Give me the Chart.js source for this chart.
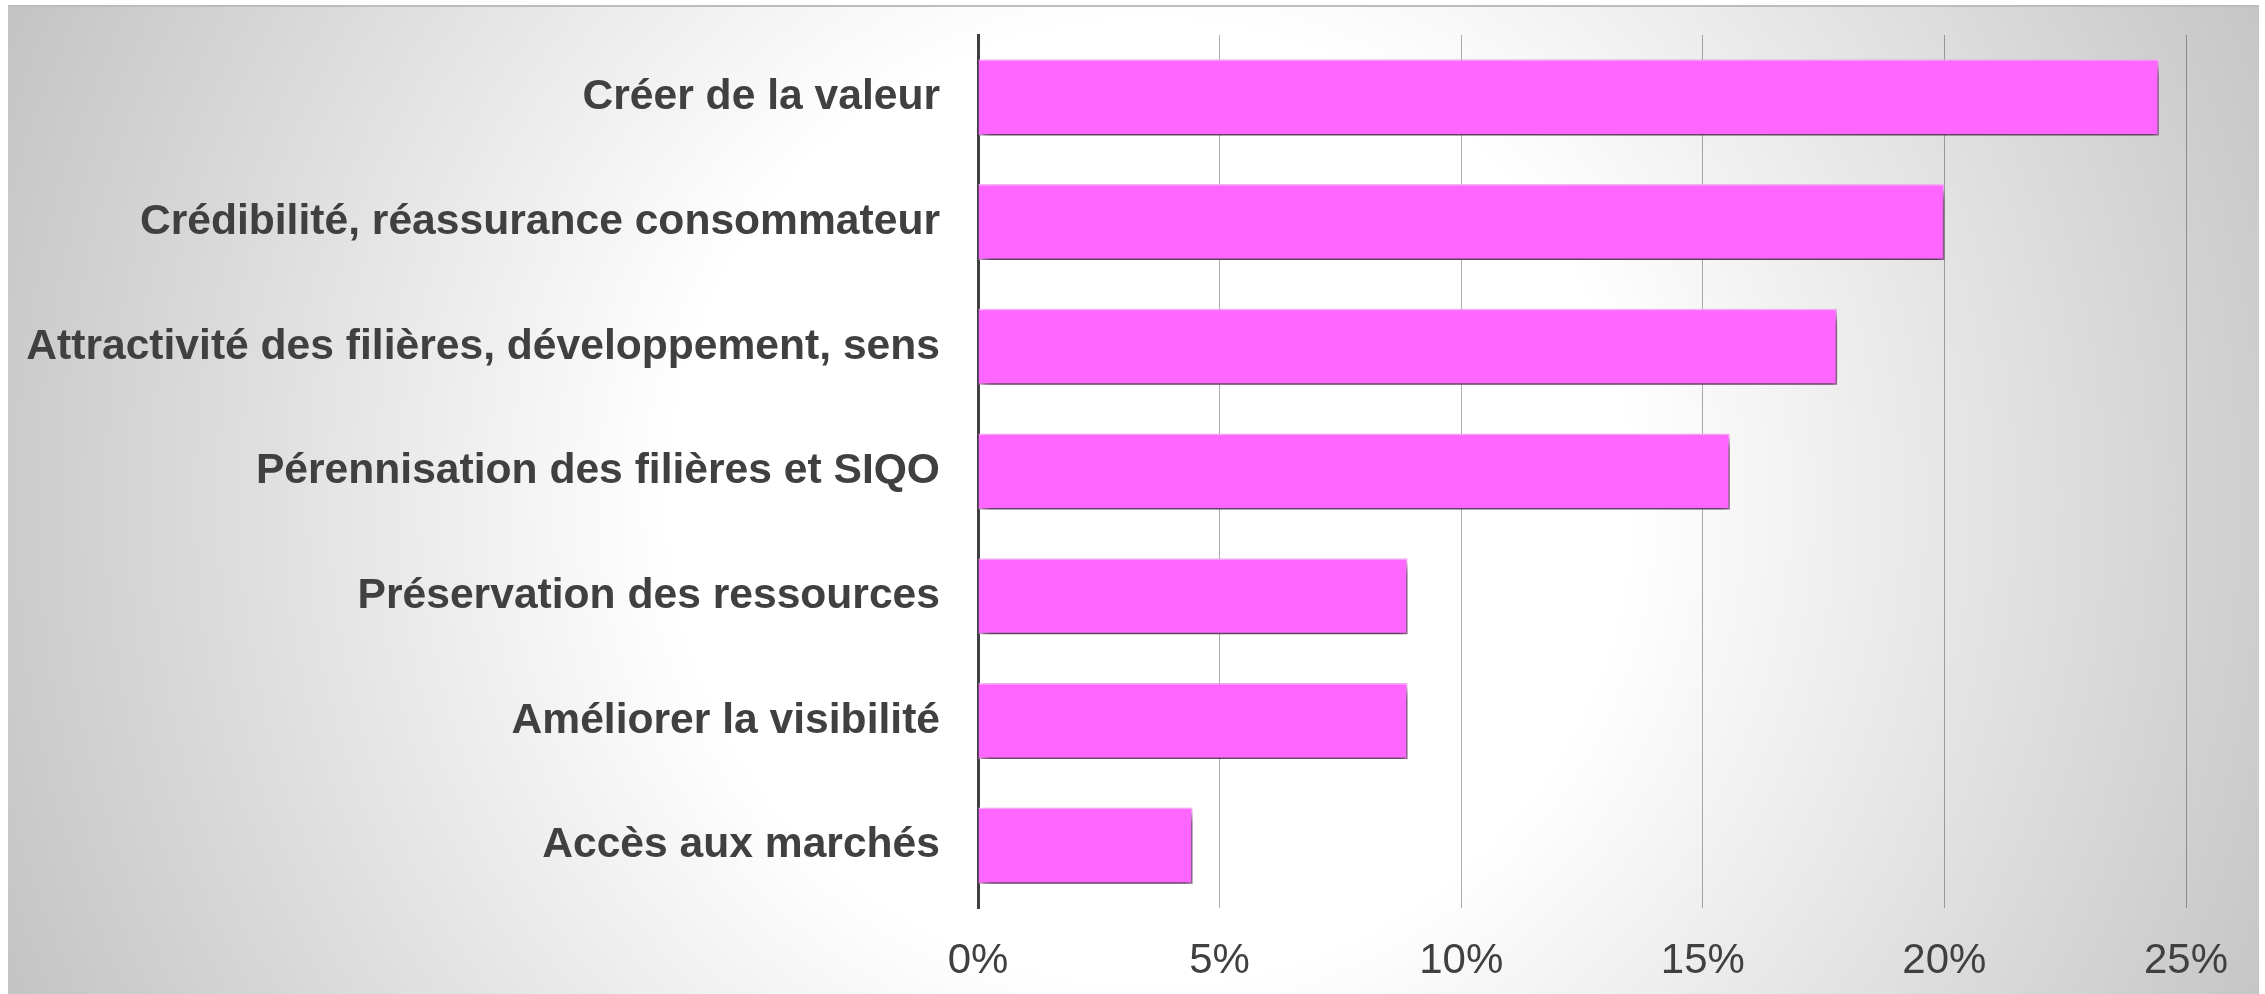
<!DOCTYPE html>
<html>
<head>
<meta charset="utf-8">
<script src="https://cdn.jsdelivr.net/npm/chart.js@4/dist/chart.umd.min.js"></script>
<style>
  html, body { margin: 0; padding: 0; background: #fff; }
  #wrap { position: relative; width: 2265px; height: 994px; overflow: hidden; }
  #panel {
    position: absolute; left: 8px; top: 5px; width: 2251px; height: 989px;
    border-top: 2px solid #bcbcbc; box-sizing: border-box;
    background: radial-gradient(circle 1250px at 1142px 495px, #ffffff 0px, #ffffff 480px, #c3c3c3 1250px);
  }
  #chart-box { position: absolute; left: 0; top: 0; width: 2265px; height: 994px; }
</style>
</head>
<body>
<div id="wrap">
  <div id="panel"></div>
  <div id="chart-box"><canvas id="bar-chart"></canvas></div>
</div>
<script>
// categories, top to bottom
const categories = [
  'Créer de la valeur',
  'Crédibilité, réassurance consommateur',
  'Attractivité des filières, développement, sens',
  'Pérennisation des filières et SIQO',
  'Préservation des ressources',
  'Améliorer la visibilité',
  'Accès aux marchés'
];

// share of answers, in %
const shares = [24.44, 20, 17.78, 15.56, 8.89, 8.89, 4.44];

const xTicks = [0, 5, 10, 15, 20, 25];

const textColor = '#404040';
const fontFamily = "'Liberation Sans', Arial, sans-serif";

// soft drop shadow under the bars
const barShadow = {
  id: 'barShadow',
  beforeDatasetsDraw(chart) {
    const ctx = chart.ctx;
    ctx.save();
    ctx.shadowColor = 'rgba(0, 0, 0, 0.7)';
    ctx.shadowBlur = 10;
    ctx.shadowOffsetX = 3;
    ctx.shadowOffsetY = 7;
  },
  afterDatasetsDraw(chart) {
    chart.ctx.restore();
  }
};

new Chart(document.getElementById('bar-chart'), {
  type: 'bar',
  data: {
    labels: categories,
    datasets: [{
      data: shares,
      backgroundColor: '#ff66ff',
      borderColor: '#ffb0ff',
      borderWidth: 1.5,
      barPercentage: 0.61,
      categoryPercentage: 1
    }]
  },
  options: {
    indexAxis: 'y',
    responsive: true,
    maintainAspectRatio: false,
    animation: false,
    layout: { padding: { top: 35, right: 79, bottom: 0, left: 0 } },
    plugins: {
      legend: { display: false },
      tooltip: { enabled: false }
    },
    scales: {
      x: {
        min: 0,
        max: 25,
        afterBuildTicks: (s) => { s.ticks = xTicks.map(v => ({ value: v })); },
        afterFit: (s) => { s.height = 86; s.paddingLeft = 0; s.paddingRight = 0; },
        grid: { color: 'rgba(0, 0, 0, 0.32)', lineWidth: 1, drawTicks: false },
        border: { display: false },
        ticks: {
          padding: 28,
          color: textColor,
          font: { family: fontFamily, size: 42 },
          callback: (v) => v + '%'
        }
      },
      y: {
        afterFit: (s) => { s.width = 978; s.paddingTop = 0; s.paddingBottom = 0; },
        grid: { display: false },
        border: { display: true, color: textColor, width: 3 },
        ticks: {
          padding: 30,
          color: textColor,
          font: { family: fontFamily, size: 42.6, weight: 'bold' }
        }
      }
    }
  },
  plugins: [barShadow]
});
</script>
</body>
</html>
